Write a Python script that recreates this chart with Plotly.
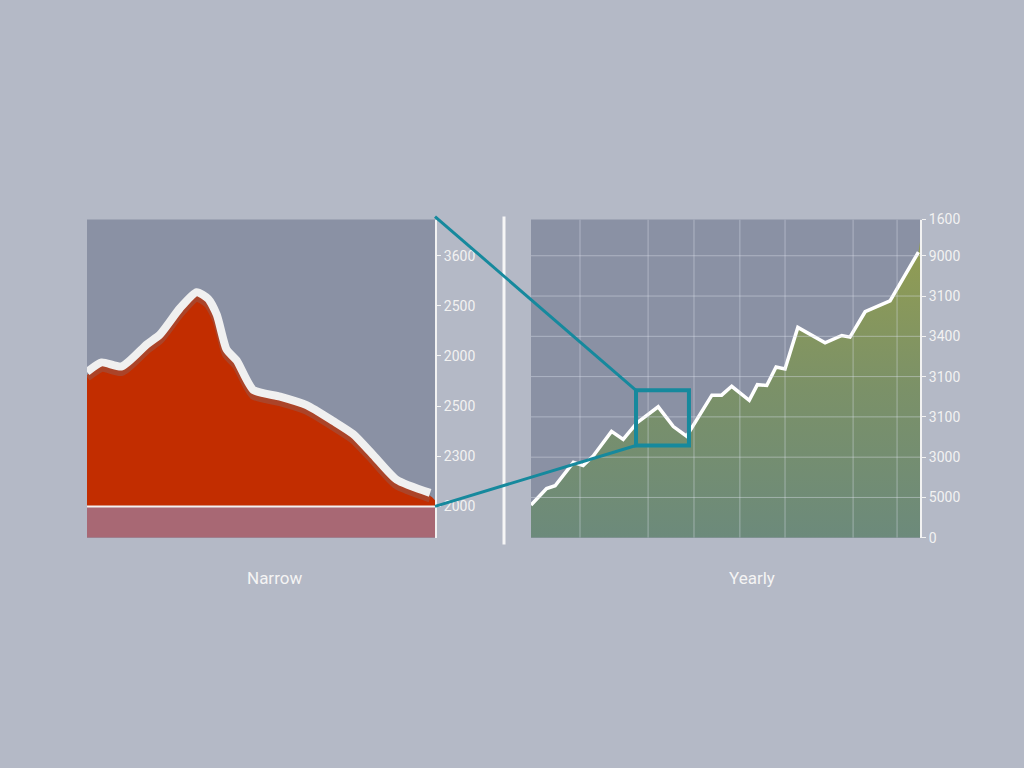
import plotly.graph_objects as go

# ---------------- data ----------------
# Left panel ("Narrow"): zoomed detail, x in relative units 0-100
narrow_x = [0, 4.2, 10.0, 17.2, 21.0, 26.7, 31.5, 34.8, 37.3, 40.1, 43.0, 47.8,
            55.5, 63.1, 70.8, 76.5, 82.3, 89.0, 98.6]
narrow_y = [2.62, 2.81, 2.73, 3.17, 3.37, 3.89, 4.21, 4.08, 3.76, 3.07, 2.85, 2.26,
            2.13, 1.96, 1.64, 1.38, 0.96, 0.47, 0.21]
narrow_tickvals = [0, 1, 2, 3, 4, 5]
narrow_ticktext = ["2000", "2300", "2500", "2000", "2500", "3600"]

# Right panel ("Yearly")
yearly_x = [0, 4.0, 6.2, 10.9, 13.4, 16.0, 20.7, 23.7, 27.2, 32.7, 36.6, 40.0,
            46.5, 49.0, 51.6, 56.1, 58.2, 60.6, 63.0, 65.3, 68.6, 75.6, 79.9,
            82.0, 85.9, 92.3, 99.6]
yearly_y = [0.81, 1.22, 1.29, 1.87, 1.79, 2.03, 2.64, 2.44, 2.85, 3.25, 2.76, 2.52,
            3.54, 3.54, 3.76, 3.41, 3.80, 3.78, 4.24, 4.19, 5.22, 4.84, 5.02,
            4.98, 5.61, 5.88, 7.09]
yearly_tickvals = [0, 1, 2, 3, 4, 5, 6, 7, 7.9]
yearly_ticktext = ["0", "5000", "3000", "3100", "3100", "3400", "3100", "9000", "1600"]
yearly_gridx = [12.6, 30.1, 41.9, 53.7, 65.3, 82.8, 94.1]

# zoom window shown in the right panel
zoom_x = [27.0, 40.6]
zoom_y = [2.29, 3.66]

# ---------------- layout constants ----------------
W, H = 1024, 768
BG = "#b4b9c6"
PLOT_BG = "#8a91a4"
WHITE = "#f4f4f4"
TEAL = "#16899d"
FONT = "Roboto"

left_dom = [87 / W, 435 / W]
right_dom = [531 / W, 920 / W]
y_dom = [1 - 541 / H, 1 - 216 / H]

left_xr = [0, 100]
left_yr = [-0.625, 5.72]
right_xr = [0, 100]
right_yr = [0, 7.9]

fig = go.Figure()

# Left: red area
fig.add_trace(go.Scatter(
    x=narrow_x + [100], y=narrow_y + [0.12], xaxis="x", yaxis="y",
    mode="lines", line=dict(color="#c22d00", width=0, shape="spline", smoothing=0.6),
    fill="tozeroy", fillcolor="#c22d00", hoverinfo="skip", showlegend=False))
# Left: soft shadow line
fig.add_trace(go.Scatter(
    x=narrow_x, y=[v - 0.04 for v in narrow_y], xaxis="x", yaxis="y",
    mode="lines", line=dict(color="rgba(120,122,135,0.3)", width=9, shape="spline", smoothing=0.6),
    hoverinfo="skip", showlegend=False))
# Left: thick white line
fig.add_trace(go.Scatter(
    x=narrow_x, y=[v + 0.06 for v in narrow_y], xaxis="x", yaxis="y",
    mode="lines", line=dict(color="#f0f0f0", width=8, shape="spline", smoothing=0.6),
    hoverinfo="skip", showlegend=False))

# Right: gradient area
fig.add_trace(go.Scatter(
    x=yearly_x + [100], y=yearly_y + [7.35], xaxis="x2", yaxis="y2",
    mode="lines", line=dict(color="rgba(0,0,0,0)", width=0),
    fill="tozeroy",
    fillgradient=dict(type="vertical",
                      colorscale=[[0, "#6c8a7b"], [0.5, "#7b9168"], [1, "#929d52"]]),
    hoverinfo="skip", showlegend=False))
# Right: white line
fig.add_trace(go.Scatter(
    x=yearly_x, y=yearly_y, xaxis="x2", yaxis="y2",
    mode="lines", line=dict(color="#ffffff", width=3.5),
    hoverinfo="skip", showlegend=False))


def to_paper(v, dom, rng):
    return dom[0] + (v - rng[0]) / (rng[1] - rng[0]) * (dom[1] - dom[0])


shapes = []
# pink band below zero line in left panel
shapes.append(dict(type="rect", xref="x", yref="y", x0=left_xr[0], x1=left_xr[1],
                   y0=left_yr[0], y1=0, fillcolor="#a86874", line=dict(width=0), layer="below"))
shapes.append(dict(type="line", xref="x", yref="y", x0=left_xr[0], x1=left_xr[1],
                   y0=0, y1=0, line=dict(color="#f2f2f2", width=2)))
# right panel vertical grid lines
for gx in yearly_gridx:
    shapes.append(dict(type="line", xref="x2", yref="y2", x0=gx, x1=gx,
                       y0=right_yr[0], y1=right_yr[1],
                       line=dict(color="rgba(220,225,235,0.45)", width=1), layer="above"))
# right panel horizontal grid lines (above fill)
for gy in yearly_tickvals[1:-1]:
    shapes.append(dict(type="line", xref="x2", yref="y2", x0=right_xr[0], x1=right_xr[1],
                       y0=gy, y1=gy,
                       line=dict(color="rgba(220,225,235,0.45)", width=1), layer="above"))
# separator
shapes.append(dict(type="line", xref="paper", yref="paper",
                   x0=504 / W, x1=504 / W, y0=1 - 548 / H, y1=1 - 213 / H,
                   line=dict(color="#f6f6f6", width=3)))
# zoom box
shapes.append(dict(type="rect", xref="x2", yref="y2", x0=zoom_x[0], x1=zoom_x[1],
                   y0=zoom_y[0], y1=zoom_y[1], line=dict(color=TEAL, width=4)))
# connectors
lx = left_dom[1]
bx = to_paper(zoom_x[0], right_dom, right_xr)
by_top = to_paper(zoom_y[1], y_dom, right_yr)
by_bot = to_paper(zoom_y[0], y_dom, right_yr)
ly_top = 1 - 213 / H
ly_bot = to_paper(0, y_dom, left_yr)
shapes.append(dict(type="line", xref="paper", yref="paper", x0=lx, y0=ly_top, x1=bx, y1=by_top,
                   line=dict(color=TEAL, width=3)))
shapes.append(dict(type="line", xref="paper", yref="paper", x0=lx, y0=ly_bot, x1=bx, y1=by_bot,
                   line=dict(color=TEAL, width=3)))

annotations = [
    dict(text="Narrow", x=274 / W, y=1 - 582 / H, xref="paper", yref="paper",
         xanchor="center", yanchor="middle",
         showarrow=False, font=dict(family=FONT, size=17, color=WHITE)),
    dict(text="Yearly", x=752 / W, y=1 - 582 / H, xref="paper", yref="paper",
         xanchor="center", yanchor="middle",
         showarrow=False, font=dict(family=FONT, size=17, color=WHITE)),
]

tickfont = dict(family=FONT, size=14, color="#f2f2f2")

fig.update_layout(
    width=W, height=H,
    margin=dict(l=0, r=0, t=0, b=0),
    paper_bgcolor=BG,
    plot_bgcolor=PLOT_BG,
    showlegend=False,
    shapes=shapes,
    annotations=annotations,
    xaxis=dict(domain=left_dom, range=left_xr, showgrid=False, zeroline=False,
               showticklabels=False, ticks="", fixedrange=True),
    yaxis=dict(domain=y_dom, range=left_yr, anchor="x", side="right",
               showgrid=False, zeroline=False, showline=True, linecolor="#f2f2f2",
               linewidth=2, ticks="outside", ticklen=4, tickcolor="#f2f2f2",
               tickvals=narrow_tickvals, ticktext=narrow_ticktext, tickfont=tickfont),
    xaxis2=dict(domain=right_dom, range=right_xr, anchor="y2", showgrid=False,
                zeroline=False, showticklabels=False, ticks=""),
    yaxis2=dict(domain=y_dom, range=right_yr, anchor="x2", side="right",
                showgrid=False, zeroline=False, showline=True, linecolor="#f2f2f2",
                linewidth=2, ticks="outside", ticklen=4, tickcolor="#f2f2f2",
                tickvals=yearly_tickvals, ticktext=yearly_ticktext, tickfont=tickfont),
)

post = (
    "document.documentElement.style.margin='0';"
    "document.documentElement.style.padding='0';"
    "document.documentElement.style.overflow='hidden';"
    "document.documentElement.style.background='#b4b9c6';"
    "document.body.style.margin='0';"
    "document.body.style.padding='0';"
    "document.body.style.overflow='hidden';"
    "document.body.style.background='#b4b9c6';"
    "var gd=document.querySelector('.plotly-graph-div');"
    "gd.style.position='fixed';gd.style.top='0px';gd.style.left='0px';"
)

fig.write_html("out.html", config={"displayModeBar": False}, post_script=post)
